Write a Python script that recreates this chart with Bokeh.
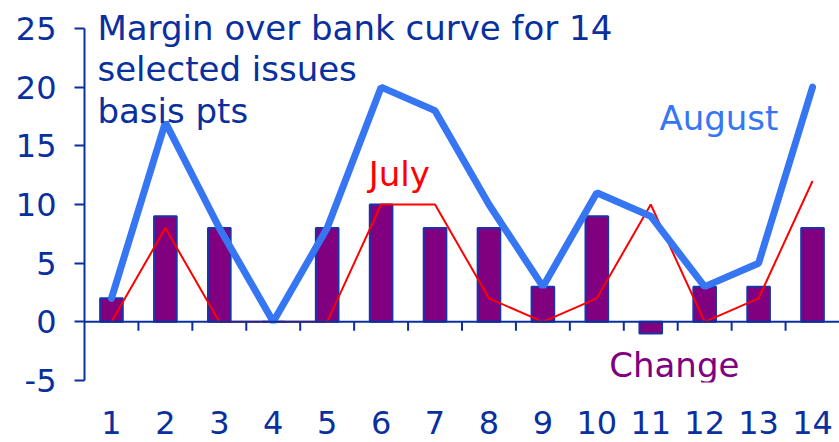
from bokeh.plotting import figure
from bokeh.models import Range1d, FixedTicker, LinearAxis, Label, Span
from bokeh.embed import file_html
from bokeh.resources import INLINE

issues = list(range(1, 15))
change = [2, 9, 8, 0, 8, 10, 8, 8, 3, 9, -1, 3, 3, 8]
august = [2, 17, 8, 0, 8, 20, 18, 10, 3, 11, 9, 3, 5, 20]
july = [0, 8, 0, 0, 0, 10, 10, 2, 0, 2, 10, 0, 2, 12]
y_ticks = [-5, 0, 5, 10, 15, 20, 25]
y_tick_labels = ["-5", "0", "5", "10", "15", "20", "25"]
title_lines = ["Margin over bank curve for 14", "selected issues", "basis pts"]

DARK = "#0a2f9e"
BLUE = "#3676f2"
FONT = "DejaVu Sans"

p = figure(width=839, height=442, output_backend="svg", toolbar_location=None,
           x_range=Range1d(0.5, 14.5), y_range=Range1d(-5.17, 27.386),
           min_border_left=84, min_border_right=0, min_border_top=0, min_border_bottom=60,
           outline_line_color=None, x_axis_location=None, y_axis_location=None)
p.grid.visible = False
p.background_fill_color = "white"
p.border_fill_color = "white"

# y axis
yax = LinearAxis(ticker=FixedTicker(ticks=y_ticks), bounds=(-5, 25))
yax.major_label_overrides = {t: s for t, s in zip(y_ticks, y_tick_labels)}
yax.axis_line_color = DARK
yax.axis_line_width = 2
yax.major_tick_line_color = DARK
yax.major_tick_line_width = 2
yax.major_tick_out = 10
yax.major_tick_in = 0
yax.minor_tick_line_color = None
yax.major_label_text_font = FONT
yax.major_label_text_font_size = "32px"
yax.major_label_text_color = DARK
yax.major_label_standoff = 18
p.add_layout(yax, "left")

# x axis labels (bottom)
xlab = LinearAxis(ticker=FixedTicker(ticks=issues))
xlab.axis_line_color = None
xlab.major_tick_line_color = None
xlab.minor_tick_line_color = None
xlab.major_label_text_font = FONT
xlab.major_label_text_font_size = "32px"
xlab.major_label_text_color = DARK
xlab.major_label_standoff = 22
p.add_layout(xlab, "below")

# zero line with between-category ticks
p.add_layout(Span(location=0, dimension="width", line_color=DARK, line_width=2))
mids = [i + 0.5 for i in issues[:-1]]
p.segment(x0=mids, y0=[0] * len(mids), x1=mids, y1=[-0.75] * len(mids),
          line_color=DARK, line_width=2)

p.vbar(x=issues, top=change, bottom=0, width=0.42, fill_color="#800080",
       line_color="#1834a8", line_width=2)
p.line(issues, july, line_color="#ff0000", line_width=2)
p.line(issues, august, line_color=BLUE, line_width=7, line_cap="round")

title_y = [25.0, 21.51, 18.01]
for t, yy in zip(title_lines, title_y):
    p.add_layout(Label(x=0.74, y=yy, text=t, text_font=FONT, text_font_size="34px",
                       text_color=DARK, text_baseline="alphabetic"))
p.add_layout(Label(x=11.16, y=17.33, text="August", text_font=FONT, text_font_size="34px",
                   text_color=BLUE, text_baseline="alphabetic"))
p.add_layout(Label(x=5.77, y=12.64, text="July", text_font=FONT, text_font_size="34px",
                   text_color="#ff0000", text_baseline="alphabetic"))
p.add_layout(Label(x=10.23, y=-3.72, text="Change", text_font=FONT, text_font_size="34px",
                   text_color="#800080", text_baseline="alphabetic"))

open("out.html", "w").write(file_html(p, INLINE))
